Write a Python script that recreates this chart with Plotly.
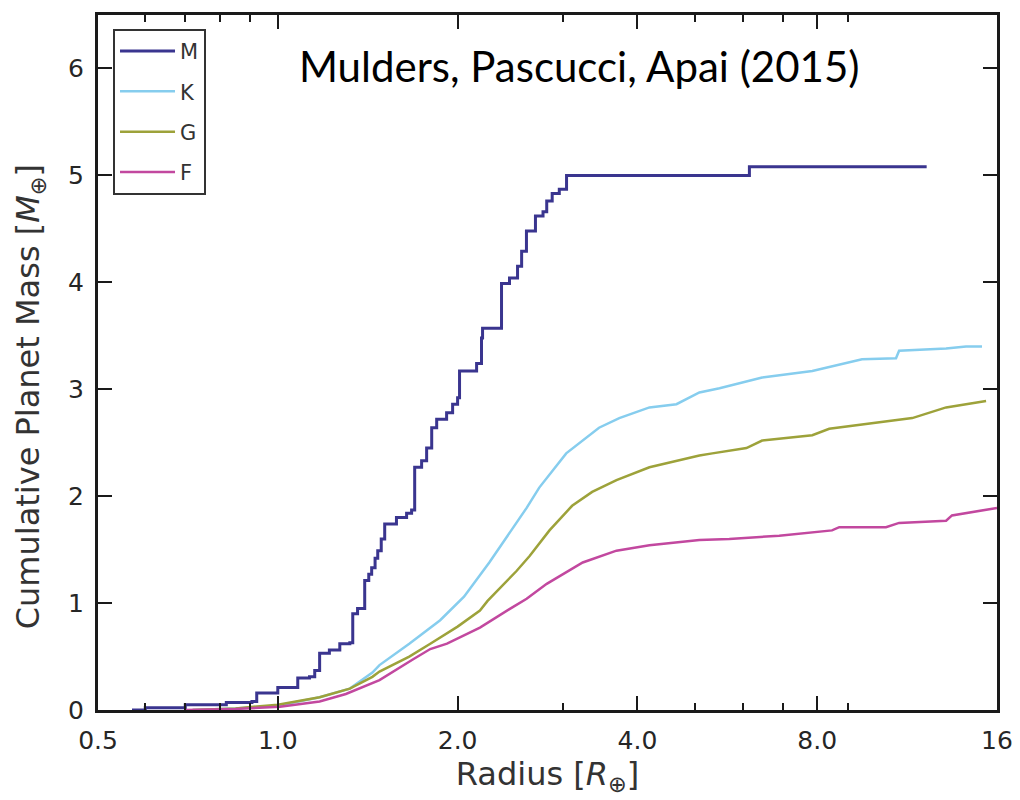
import plotly.graph_objects as go
import math

# ---- data ----
series_names = ["M", "K", "G", "F"]
series_colors = ["#3a358f", "#86cdee", "#9da23a", "#c2489f"]

M_x = [0.57, 0.60, 0.70, 0.82, 0.905, 0.922, 1.00, 1.08, 1.13, 1.153, 1.175, 1.22, 1.27, 1.32,
       1.335, 1.36, 1.398, 1.42, 1.436, 1.455, 1.47, 1.49, 1.51, 1.58, 1.643, 1.675, 1.695,
       1.741, 1.775, 1.81, 1.845, 1.917, 1.962, 2.0, 2.015, 2.152, 2.193, 2.202, 2.369, 2.443,
       2.52, 2.56, 2.608, 2.70, 2.78, 2.82, 2.88, 2.96, 3.044, 6.16, 12.2]
M_y = [0.00, 0.02, 0.05, 0.07, 0.08, 0.16, 0.21, 0.30, 0.31, 0.37, 0.53, 0.56, 0.62, 0.63,
       0.90, 0.95, 1.21, 1.27, 1.33, 1.42, 1.49, 1.60, 1.74, 1.80, 1.84, 1.87, 2.27,
       2.33, 2.45, 2.64, 2.72, 2.78, 2.86, 2.92, 3.17, 3.24, 3.48, 3.57, 3.99, 4.04,
       4.15, 4.29, 4.48, 4.62, 4.66, 4.76, 4.83, 4.87, 5.00, 5.08, 5.08]

K_x = [0.72, 0.85, 1.0, 1.175, 1.32, 1.44, 1.48, 1.66, 1.87, 2.05, 2.26, 2.35, 2.61, 2.74,
       3.04, 3.45, 3.73, 4.19, 4.65, 5.08, 5.49, 6.47, 7.85, 9.51, 10.84, 10.97, 13.15, 14.2, 15.1]
K_y = [0.0, 0.015, 0.04, 0.12, 0.20, 0.35, 0.42, 0.62, 0.84, 1.06, 1.38, 1.52, 1.89, 2.08,
       2.40, 2.64, 2.73, 2.83, 2.86, 2.97, 3.01, 3.11, 3.17, 3.28, 3.29, 3.36, 3.38, 3.40, 3.40]

G_x = [0.72, 0.85, 1.0, 1.175, 1.32, 1.44, 1.48, 1.66, 1.80, 2.0, 2.18, 2.245, 2.51, 2.64,
       2.85, 3.11, 3.36, 3.69, 4.19, 4.65, 5.08, 5.34, 6.09, 6.47, 7.85, 8.38, 10.16, 11.54,
       13.15, 15.34]
G_y = [0.0, 0.015, 0.05, 0.12, 0.20, 0.31, 0.36, 0.50, 0.62, 0.78, 0.93, 1.02, 1.30, 1.44,
       1.68, 1.91, 2.04, 2.15, 2.27, 2.33, 2.38, 2.40, 2.45, 2.52, 2.57, 2.63, 2.69, 2.73,
       2.83, 2.89]

F_x = [0.70, 0.85, 1.008, 1.175, 1.30, 1.48, 1.68, 1.80, 1.92, 2.18, 2.47, 2.61, 2.82, 3.24,
       3.69, 4.19, 5.08, 5.70, 6.91, 8.47, 8.71, 10.43, 10.97, 13.15, 13.45, 16.0]
F_y = [0.0, 0.01, 0.03, 0.08, 0.15, 0.28, 0.47, 0.57, 0.62, 0.77, 0.96, 1.04, 1.18, 1.38,
       1.49, 1.54, 1.59, 1.60, 1.63, 1.68, 1.71, 1.71, 1.75, 1.77, 1.82, 1.89]

x_tickvals = [0.5, 1.0, 2.0, 4.0, 8.0, 16.0]
x_ticktext = ["0.5", "1.0", "2.0", "4.0", "8.0", "16"]
x_minor = [0.6, 0.7, 0.8, 0.9, 3.0, 5.0, 6.0, 7.0, 9.0]
y_tickvals = [0, 1, 2, 3, 4, 5, 6]

title_text = "Mulders, Pascucci, Apai (2015)"
x_title = "Radius [<i>R</i><sub>⊕</sub>]"
y_title = "Cumulative Planet Mass [<i>M</i><sub>⊕</sub>]"

# ---- figure ----
fig = go.Figure()
xs = [M_x, K_x, G_x, F_x]
ys = [M_y, K_y, G_y, F_y]
for i, name in enumerate(series_names):
    fig.add_trace(go.Scatter(
        x=xs[i], y=ys[i], mode="lines", name=name,
        legendgroup=name,
        line=dict(color=series_colors[i], width=3 if name == "M" else 2.5,
                  shape="hv" if name == "M" else "linear"),
    ))

tickfont = dict(family="DejaVu Sans", size=25, color="#262626")
axcol = "#1a1a1a"
labfont = dict(family="DejaVu Sans", size=32, color="#333333")

fig.update_layout(
    width=1020, height=800,
    margin=dict(l=98, r=23, t=15, b=90, autoexpand=False),
    paper_bgcolor="white", plot_bgcolor="white",
    showlegend=True,
    legend=dict(
        x=0.0167, y=0.98, xanchor="left", yanchor="top",
        bgcolor="white", bordercolor="#333333", borderwidth=2,
        font=dict(family="DejaVu Sans", size=21, color="#333333"),
        tracegroupgap=10, itemwidth=55,
    ),
    xaxis=dict(
        type="log", range=[math.log10(0.5), math.log10(16)],
        tickmode="array", tickvals=x_tickvals, ticktext=x_ticktext,
        ticks="inside", ticklen=14, tickwidth=1.5, tickcolor=axcol,
        minor=dict(tickmode="array", tickvals=x_minor, ticks="inside", ticklen=7,
                   tickwidth=1.5, tickcolor=axcol, showgrid=False),
        showline=True, linecolor=axcol, linewidth=3, mirror="ticks",
        showgrid=False, zeroline=False,
        tickfont=tickfont, ticklabelstandoff=6,
        title=dict(text=x_title, font=labfont, standoff=2),
    ),
    yaxis=dict(
        range=[0, 6.5],
        tickmode="array", tickvals=y_tickvals,
        ticks="inside", ticklen=14, tickwidth=1.5, tickcolor=axcol,
        showline=True, linecolor=axcol, linewidth=3, mirror="ticks",
        showgrid=False, zeroline=False,
        tickfont=tickfont, ticklabelstandoff=6,
    ),
)

# y-axis title (placed like the reference, slightly above the axis centre)
fig.add_annotation(
    text=y_title, xref="paper", yref="paper",
    x=-0.0756, y=0.45, xanchor="center", yanchor="middle",
    textangle=-90, showarrow=False, font=labfont,
)

fig.add_annotation(
    text=title_text, xref="paper", yref="paper",
    x=0.2214, y=0.927, xanchor="left", yanchor="middle",
    showarrow=False,
    font=dict(family="Lato", size=42, color="black"),
)

fig.write_html("out.html")
